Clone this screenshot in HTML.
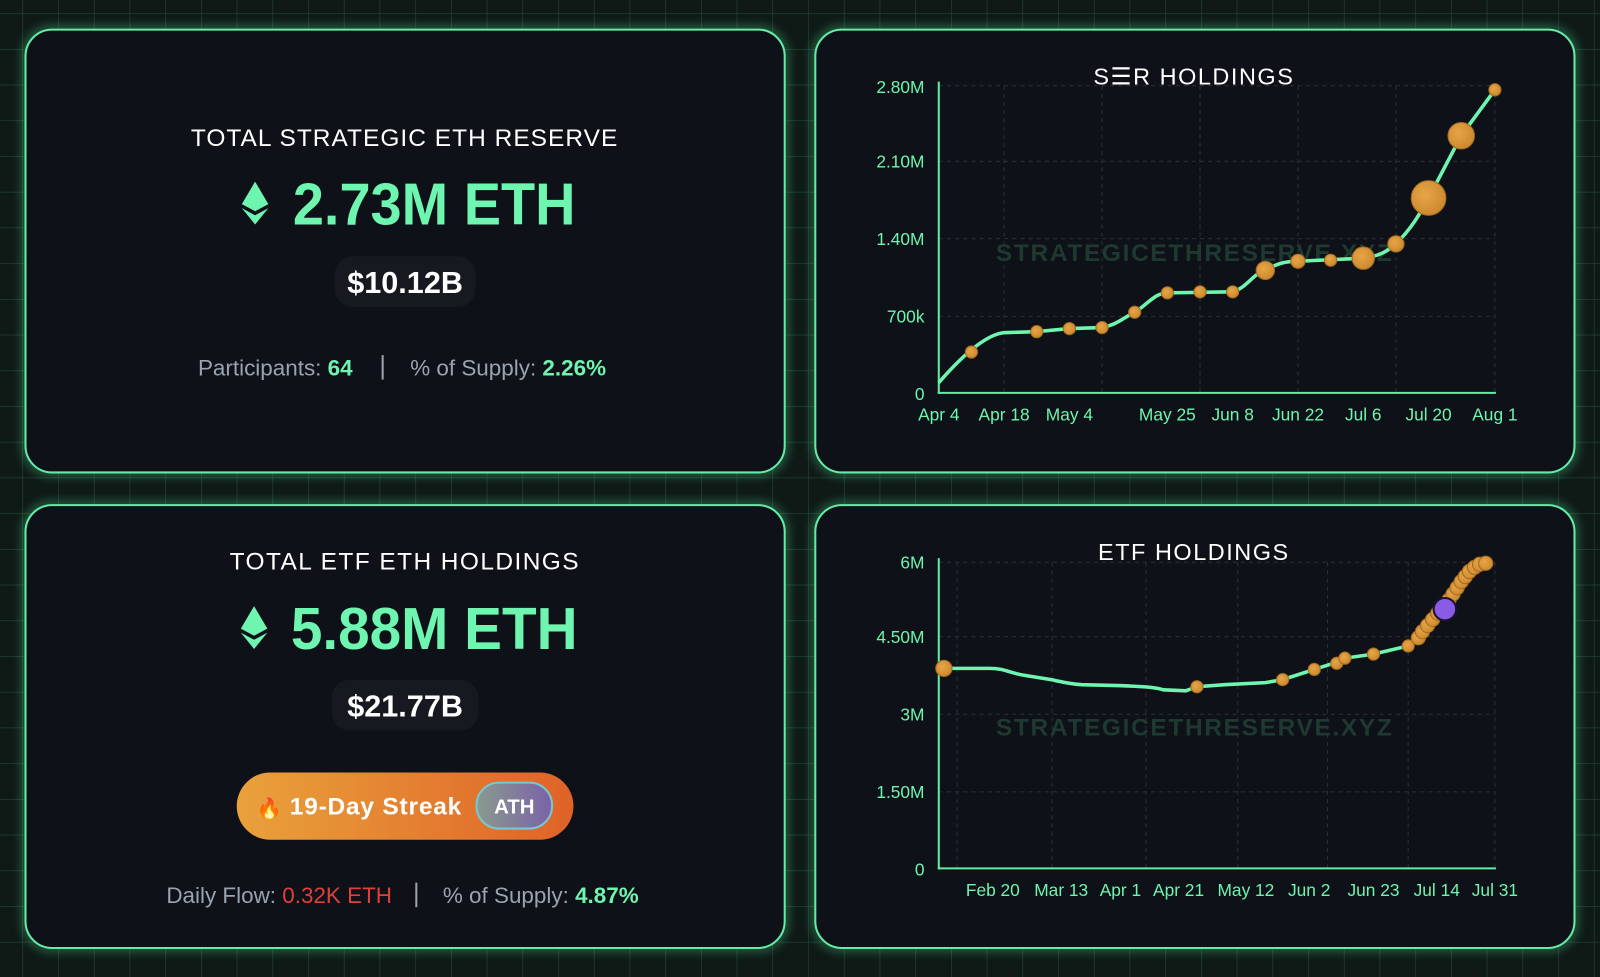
<!DOCTYPE html>
<html><head><meta charset="utf-8"><style>
html,body{margin:0;padding:0;background:#0f1916;}
svg{display:block}
text{font-family:"Liberation Sans",sans-serif}
</style></head><body>
<svg width="1600" height="977" viewBox="0 0 1600 977" xmlns="http://www.w3.org/2000/svg">
<defs>
<pattern id="g" x="22" y="13" width="35" height="35" patternUnits="userSpaceOnUse">
<path d="M0 0H35M0 0V35" stroke="#22493a" stroke-width="1.2" fill="none"/>
</pattern>
<filter id="glow" x="-10%" y="-10%" width="120%" height="120%"><feGaussianBlur stdDeviation="5"/></filter>
<linearGradient id="badge" x1="0" x2="1"><stop offset="0" stop-color="#e9a23b"/><stop offset="1" stop-color="#df6228"/></linearGradient>
<linearGradient id="ath" x1="0" x2="1"><stop offset="0" stop-color="#8a9a8e"/><stop offset="1" stop-color="#7a62a8"/></linearGradient>
<radialGradient id="dot" cx="0.4" cy="0.4" r="0.7"><stop offset="0" stop-color="#e8a548"/><stop offset="1" stop-color="#c8862a"/></radialGradient>
</defs>
<rect width="1600" height="977" fill="#0f1916"/>
<g transform="scale(1.02041)">
<rect width="1600" height="977" fill="url(#g)"/>

<g>
<rect x="25" y="29" width="744" height="434" rx="26" fill="none" stroke="#4fe39a" stroke-width="6" opacity="0.5" filter="url(#glow)"/>
<rect x="25" y="29" width="744" height="434" rx="26" fill="#0e1117" stroke="#63eca6" stroke-width="2"/>
<rect x="799" y="29" width="744" height="434" rx="26" fill="none" stroke="#4fe39a" stroke-width="6" opacity="0.5" filter="url(#glow)"/>
<rect x="799" y="29" width="744" height="434" rx="26" fill="#0e1117" stroke="#63eca6" stroke-width="2"/>
<rect x="25" y="495" width="744" height="434" rx="26" fill="none" stroke="#4fe39a" stroke-width="6" opacity="0.5" filter="url(#glow)"/>
<rect x="25" y="495" width="744" height="434" rx="26" fill="#0e1117" stroke="#63eca6" stroke-width="2"/>
<rect x="799" y="495" width="744" height="434" rx="26" fill="none" stroke="#4fe39a" stroke-width="6" opacity="0.5" filter="url(#glow)"/>
<rect x="799" y="495" width="744" height="434" rx="26" fill="#0e1117" stroke="#63eca6" stroke-width="2"/>
</g>

<text x="397" y="143" text-anchor="middle" font-size="24" fill="#fff" letter-spacing="2" textLength="420">TOTAL STRATEGIC ETH RESERVE</text>
<g fill="#6ef5b0">
<polygon points="250,178 263,200 250,207 237,200"/>
<polygon points="237,204 250,211 263,204 250,220"/>
</g>
<text x="287" y="220" font-size="58" font-weight="bold" fill="#6ef5b0" textLength="277" lengthAdjust="spacingAndGlyphs">2.73M ETH</text>
<rect x="328" y="251" width="138" height="50" rx="18" fill="#161a20"/>
<text x="397" y="287" text-anchor="middle" font-size="30" font-weight="bold" fill="#fff">$10.12B</text>
<text x="194" y="368" font-size="22" fill="#9aa3b0">Participants: <tspan fill="#6ef5b0" font-weight="bold">64</tspan></text>
<rect x="374" y="348" width="2" height="24" fill="#9aa3b0"/>
<text x="402" y="368" font-size="22" fill="#9aa3b0">% of Supply: <tspan fill="#6ef5b0" font-weight="bold">2.26%</tspan></text>

<text x="397" y="558" text-anchor="middle" font-size="24" fill="#fff" letter-spacing="2" textLength="344">TOTAL ETF ETH HOLDINGS</text>
<g fill="#6ef5b0">
<polygon points="249,594 262,616 249,623 236,616"/>
<polygon points="236,620 249,627 262,620 249,636"/>
</g>
<text x="285" y="636" font-size="58" font-weight="bold" fill="#6ef5b0" textLength="281" lengthAdjust="spacingAndGlyphs">5.88M ETH</text>
<rect x="325" y="666" width="144" height="50" rx="18" fill="#161a20"/>
<text x="397" y="702" text-anchor="middle" font-size="30" font-weight="bold" fill="#fff">$21.77B</text>
<rect x="232" y="757" width="330" height="66" rx="33" fill="url(#badge)"/>
<text x="264" y="799" text-anchor="middle" font-size="20">🔥</text>
<text x="284" y="798" font-size="24" font-weight="bold" fill="#fff" textLength="168">19-Day Streak</text>
<rect x="467" y="767" width="74" height="45" rx="22" fill="url(#ath)" stroke="#78c6d4" stroke-width="2"/>
<text x="504" y="797" text-anchor="middle" font-size="20" font-weight="bold" fill="#fff">ATH</text>
<text x="163" y="885" font-size="22" fill="#9aa3b0">Daily Flow: <tspan fill="#e0403a">0.32K ETH</tspan></text>
<rect x="407" y="865" width="2" height="24" fill="#9aa3b0"/>
<text x="434" y="885" font-size="22" fill="#9aa3b0">% of Supply: <tspan fill="#6ef5b0" font-weight="bold">4.87%</tspan></text>

<g stroke="#2b3236" stroke-dasharray="4 4" stroke-width="1">
<line x1="920" y1="84" x2="1465" y2="84"/><line x1="920" y1="158" x2="1465" y2="158"/>
<line x1="920" y1="234" x2="1465" y2="234"/><line x1="920" y1="310" x2="1465" y2="310"/>
<line x1="984" y1="84" x2="984" y2="385"/><line x1="1080" y1="84" x2="1080" y2="385"/>
<line x1="1176" y1="84" x2="1176" y2="385"/><line x1="1272" y1="84" x2="1272" y2="385"/>
<line x1="1368" y1="84" x2="1368" y2="385"/><line x1="1465" y1="84" x2="1465" y2="385"/>
</g>
<text x="1170" y="256" text-anchor="middle" font-size="24" font-weight="bold" fill="#1e3a30" textLength="388">STRATEGICETHRESERVE.XYZ</text>
<line x1="920" y1="80" x2="920" y2="386" stroke="#63eca6" stroke-width="2"/>
<line x1="919" y1="385" x2="1466" y2="385" stroke="#63eca6" stroke-width="2"/>
<text x="1170" y="83" text-anchor="middle" font-size="23" fill="#fff" letter-spacing="1.5">S☰R HOLDINGS</text>
<g font-size="17" fill="#6ef5b0" text-anchor="end">
<text x="906" y="91">2.80M</text><text x="906" y="164">2.10M</text><text x="906" y="240">1.40M</text><text x="906" y="316">700k</text><text x="906" y="392">0</text>
</g>
<g font-size="17" fill="#6ef5b0" text-anchor="middle">
<text x="920" y="412">Apr 4</text><text x="984" y="412">Apr 18</text><text x="1048" y="412">May 4</text><text x="1144" y="412">May 25</text><text x="1208" y="412">Jun 8</text><text x="1272" y="412">Jun 22</text><text x="1336" y="412">Jul 6</text><text x="1400" y="412">Jul 20</text><text x="1465" y="412">Aug 1</text>
</g>
<path d="M920,375 C940,352 965,328 984,326 L1016,325 L1048,322 L1080,321 C1095,318 1100,312 1112,306 C1125,298 1132,287 1144,287 L1208,286 C1222,282 1228,268 1240,265 C1252,258 1260,256 1272,256 L1336,253 C1352,251 1360,246 1368,239 C1385,222 1392,208 1400,194 L1432,133 L1465,88" fill="none" stroke="#6ef5b0" stroke-width="3.5"/>
<g fill="url(#dot)" stroke="#a06a20" stroke-width="1">
<circle cx="952" cy="345" r="6"/><circle cx="1016" cy="325" r="6"/><circle cx="1048" cy="322" r="6"/><circle cx="1080" cy="321" r="6"/>
<circle cx="1112" cy="306" r="6"/><circle cx="1144" cy="287" r="6"/><circle cx="1176" cy="286" r="6"/><circle cx="1208" cy="286" r="6"/>
<circle cx="1240" cy="265" r="9"/><circle cx="1272" cy="256" r="7"/><circle cx="1304" cy="255" r="6"/><circle cx="1336" cy="253" r="11"/>
<circle cx="1368" cy="239" r="8"/><circle cx="1400" cy="194" r="17"/><circle cx="1432" cy="133" r="13"/><circle cx="1465" cy="88" r="6"/>
</g>

<g stroke="#2b3236" stroke-dasharray="4 4" stroke-width="1">
<line x1="920" y1="551" x2="1465" y2="551"/><line x1="920" y1="624" x2="1465" y2="624"/>
<line x1="920" y1="700" x2="1465" y2="700"/><line x1="920" y1="776" x2="1465" y2="776"/>
<line x1="938" y1="551" x2="938" y2="851"/><line x1="1031" y1="551" x2="1031" y2="851"/>
<line x1="1123" y1="551" x2="1123" y2="851"/><line x1="1213" y1="551" x2="1213" y2="851"/>
<line x1="1301" y1="551" x2="1301" y2="851"/><line x1="1380" y1="551" x2="1380" y2="851"/>
<line x1="1465" y1="551" x2="1465" y2="851"/>
</g>
<text x="1170" y="721" text-anchor="middle" font-size="24" font-weight="bold" fill="#1e3a30" textLength="388">STRATEGICETHRESERVE.XYZ</text>
<line x1="920" y1="547" x2="920" y2="852" stroke="#63eca6" stroke-width="2"/>
<line x1="919" y1="851" x2="1466" y2="851" stroke="#63eca6" stroke-width="2"/>
<text x="1170" y="549" text-anchor="middle" font-size="23" fill="#fff" letter-spacing="1.5">ETF HOLDINGS</text>
<g font-size="17" fill="#6ef5b0" text-anchor="end">
<text x="906" y="557">6M</text><text x="906" y="630">4.50M</text><text x="906" y="706">3M</text><text x="906" y="782">1.50M</text><text x="906" y="858">0</text>
</g>
<g font-size="17" fill="#6ef5b0" text-anchor="middle">
<text x="973" y="878">Feb 20</text><text x="1040" y="878">Mar 13</text><text x="1098" y="878">Apr 1</text><text x="1155" y="878">Apr 21</text><text x="1221" y="878">May 12</text><text x="1283" y="878">Jun 2</text><text x="1346" y="878">Jun 23</text><text x="1408" y="878">Jul 14</text><text x="1465" y="878">Jul 31</text>
</g>
<path d="M925,655 L970,655 C985,655 990,660 1005,662 L1030,666 C1040,668 1045,670 1060,671 L1100,672 C1120,673 1130,673 1140,676 L1162,677 L1173,673 L1200,671 L1240,669 L1257,666 L1288,656 L1310,649 L1318,645 L1346,641 L1380,633 C1395,622 1405,608 1416,597 L1440,562 L1456,552" fill="none" stroke="#6ef5b0" stroke-width="3.5"/>
<g fill="url(#dot)" stroke="#a06a20" stroke-width="1">
<circle cx="925" cy="655" r="8"/><circle cx="1173" cy="673" r="6"/><circle cx="1257" cy="666" r="6"/><circle cx="1288" cy="656" r="6"/>
<circle cx="1310" cy="650" r="6"/><circle cx="1318" cy="645" r="6"/><circle cx="1346" cy="641" r="6"/><circle cx="1380" cy="633" r="6"/>
<circle cx="1390" cy="625" r="7"/><circle cx="1394" cy="619" r="7"/><circle cx="1399" cy="613" r="7"/><circle cx="1404" cy="607" r="7"/><circle cx="1409" cy="601" r="7"/>
<circle cx="1420" cy="588" r="7"/><circle cx="1424" cy="582" r="7"/><circle cx="1428" cy="576" r="7"/><circle cx="1432" cy="570" r="7"/>
<circle cx="1436" cy="565" r="7"/><circle cx="1440" cy="560" r="7"/><circle cx="1445" cy="556" r="7"/><circle cx="1450" cy="553" r="7"/><circle cx="1456" cy="552" r="7"/>
</g>
<circle cx="1416" cy="597" r="11" fill="#8a5ce6" stroke="#1a1330" stroke-width="2"/>
</g>
</svg>
</body></html>
